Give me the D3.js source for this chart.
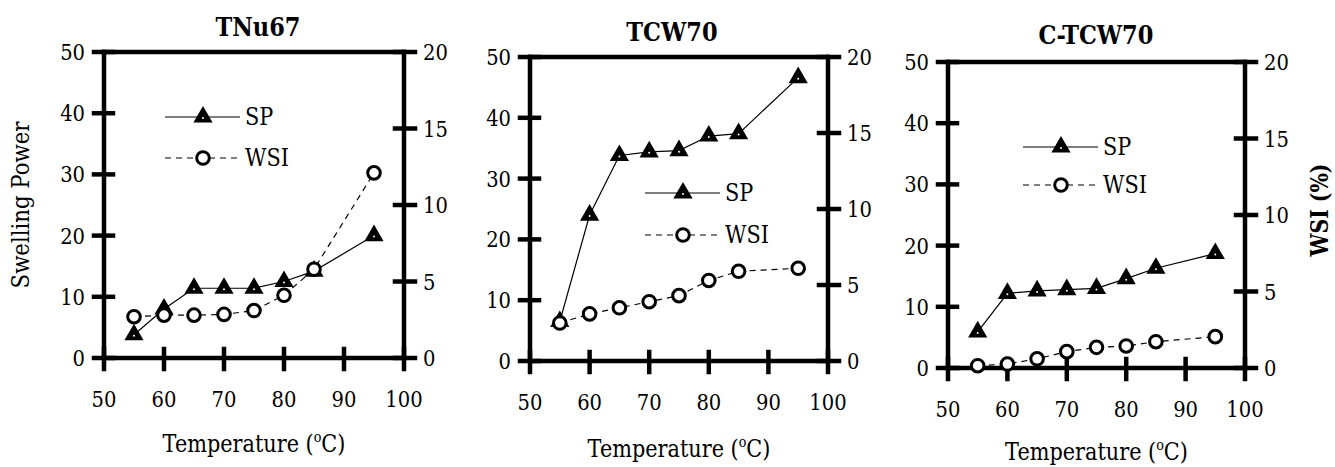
<!DOCTYPE html>
<html>
<head>
<meta charset="utf-8">
<script src="https://cdn.jsdelivr.net/npm/d3@7"></script>
<style>
  html, body { margin: 0; padding: 0; background: #fff; }
  svg { display: block; }
  .serif { font-family: "DejaVu Serif"; }
</style>
</head>
<body>
<svg id="chart" width="1335" height="467"></svg>
<script>
// ---- data ----
const temperatures = [55, 60, 65, 70, 75, 80, 85, 95];
const panelTitles = ["TNu67", "TCW70", "C-TCW70"];
const spTNu67  = [3.8, 8.0, 11.4, 11.4, 11.4, 12.5, 14.2, 20.0];
const wsiTNu67 = [2.7, 2.8, 2.8, 2.85, 3.1, 4.1, 5.8, 12.1];
const spTCW70  = [6.5, 24.0, 33.8, 34.4, 34.6, 37.0, 37.4, 46.6];
const wsiTCW70 = [2.5, 3.1, 3.5, 3.9, 4.3, 5.3, 5.9, 6.1];
const spCTCW70  = [5.9, 12.2, 12.6, 12.8, 13.0, 14.6, 16.3, 18.7];
const wsiCTCW70 = [0.15, 0.26, 0.6, 1.07, 1.35, 1.44, 1.72, 2.05];
const xTicks = [50, 60, 70, 80, 90, 100];
const spTicks = [0, 10, 20, 30, 40, 50];
const wsiTicks = [0, 5, 10, 15, 20];
const seriesNames = ["SP", "WSI"];
const xTitle = "Temperature (";
const yLeftTitle = "Swelling Power";
const yRightTitle = "WSI (%)";

// ---- layout ----
const spSeries = [spTNu67, spTCW70, spCTCW70];
const wsiSeries = [wsiTNu67, wsiTCW70, wsiCTCW70];
const layout = [
  { x0: 104, x1: 404, yT: 52, yB: 358, tx: 258, ty: 36, xtY: 452, legX: 165, legY: 117, legGap: 41, leftTitle: true, rightTitle: false },
  { x0: 530, x1: 828, yT: 57, yB: 361, tx: 672, ty: 41, xtY: 457, legX: 645, legY: 193, legGap: 42, leftTitle: false, rightTitle: false },
  { x0: 948, x1: 1245, yT: 62, yB: 368, tx: 1096, ty: 44, xtY: 460, legX: 1023, legY: 147, legGap: 38, leftTitle: false, rightTitle: true }
];

const svg = d3.select("#chart");
const TICK = 9, AXW = 4.5;
const SX = 0.85;         // horizontal condensing of the serif face
const tickFont = 23;

function txt(sel, x, y, rot) {
  return sel.append("text").attr("class", "serif").attr("fill", "#000")
    .attr("transform", `translate(${x},${y})${rot ? " rotate(" + rot + ")" : ""} scale(${SX},1)`);
}

layout.forEach((L, i) => {
  const g = svg.append("g");
  const x = d3.scaleLinear().domain([50, 100]).range([L.x0, L.x1]);
  const yL = d3.scaleLinear().domain([0, 50]).range([L.yB, L.yT]);
  const yR = d3.scaleLinear().domain([0, 20]).range([L.yB, L.yT]);

  const ln = (x1, y1, x2, y2) => g.append("line")
    .attr("x1", x1).attr("y1", y1).attr("x2", x2).attr("y2", y2)
    .attr("stroke", "#000").attr("stroke-width", AXW).attr("stroke-linecap", "square");

  ln(L.x0, L.yB, L.x1, L.yB);
  ln(L.x0, L.yT, L.x1, L.yT);
  ln(L.x0, L.yT, L.x0, L.yB);
  ln(L.x1, L.yT, L.x1, L.yB);

  xTicks.forEach(t => ln(x(t), L.yB - TICK, x(t), L.yB + TICK + 2));
  spTicks.forEach(t => ln(L.x0 - TICK - 1, yL(t), L.x0 + TICK, yL(t)));
  wsiTicks.forEach(t => ln(L.x1 - TICK, yR(t), L.x1 + TICK + 2, yR(t)));

  xTicks.forEach(d => txt(g, x(d), L.yB + 49).attr("text-anchor", "middle")
    .attr("font-size", tickFont).text(d));
  spTicks.forEach(d => txt(g, L.x0 - 19, yL(d) + 8).attr("text-anchor", "end")
    .attr("font-size", tickFont).text(d));
  wsiTicks.forEach(d => txt(g, L.x1 + 19, yR(d) + 8).attr("text-anchor", "start")
    .attr("font-size", tickFont).text(d));

  txt(g, L.tx, L.ty).attr("text-anchor", "middle")
    .attr("font-size", 26.5).attr("font-weight", "bold").text(panelTitles[i]);
  const xt = txt(g, (L.x0 + L.x1) / 2, L.xtY).attr("text-anchor", "middle").attr("font-size", 24.5);
  xt.append("tspan").text(xTitle);
  xt.append("tspan").attr("font-size", 15).attr("dy", -10).text("o");
  xt.append("tspan").attr("dy", 10).text("C)");
  if (L.leftTitle) {
    txt(g, L.x0 - 75, (L.yT + L.yB) / 2, -90).attr("text-anchor", "middle").attr("font-size", 25).text(yLeftTitle);
  }
  if (L.rightTitle) {
    txt(g, L.x1 + 83, (L.yT + L.yB) / 2 - 5, -90).attr("text-anchor", "middle")
      .attr("font-size", 24).attr("font-weight", "bold").text(yRightTitle);
  }

  const spData = temperatures.map((t, k) => [t, spSeries[i][k]]);
  const wsiData = temperatures.map((t, k) => [t, wsiSeries[i][k]]);
  g.append("path").attr("d", d3.line().x(d => x(d[0])).y(d => yL(d[1]))(spData))
    .attr("fill", "none").attr("stroke", "#000").attr("stroke-width", 1.2);
  g.append("path").attr("d", d3.line().x(d => x(d[0])).y(d => yR(d[1]))(wsiData))
    .attr("fill", "none").attr("stroke", "#000").attr("stroke-width", 1.2).attr("stroke-dasharray", "6,5");

  const tri = d3.symbol().type(d3.symbolTriangle).size(160);
  spData.forEach(d => {
    const tg = g.append("g").attr("transform", `translate(${x(d[0])},${yL(d[1])})`);
    tg.append("path").attr("d", tri()).attr("fill", "#000");
    tg.append("circle").attr("r", 1).attr("cy", 1).attr("fill", "#fff");
  });

  wsiData.forEach(d => g.append("circle")
    .attr("cx", x(d[0])).attr("cy", yR(d[1])).attr("r", 6.3)
    .attr("fill", "#fff").attr("stroke", "#000").attr("stroke-width", 3));

  const lg = g.append("g").attr("transform", `translate(${L.legX},${L.legY})`);
  lg.append("line").attr("x1", 0).attr("x2", 75).attr("y1", 0).attr("y2", 0).attr("stroke", "#000").attr("stroke-width", 1.2);
  lg.append("path").attr("transform", "translate(38,0)").attr("d", tri()).attr("fill", "#000");
  lg.append("circle").attr("cx", 38).attr("cy", 1).attr("r", 1).attr("fill", "#fff");
  txt(lg, 80, 8).attr("font-size", 24.5).text(seriesNames[0]);
  lg.append("line").attr("x1", 0).attr("x2", 75).attr("y1", L.legGap).attr("y2", L.legGap).attr("stroke", "#000").attr("stroke-width", 1.2).attr("stroke-dasharray", "6,5");
  lg.append("circle").attr("cx", 38).attr("cy", L.legGap).attr("r", 6.3).attr("fill", "#fff").attr("stroke", "#000").attr("stroke-width", 3);
  txt(lg, 80, L.legGap + 8).attr("font-size", 24.5).text(seriesNames[1]);
});
</script>
</body>
</html>
